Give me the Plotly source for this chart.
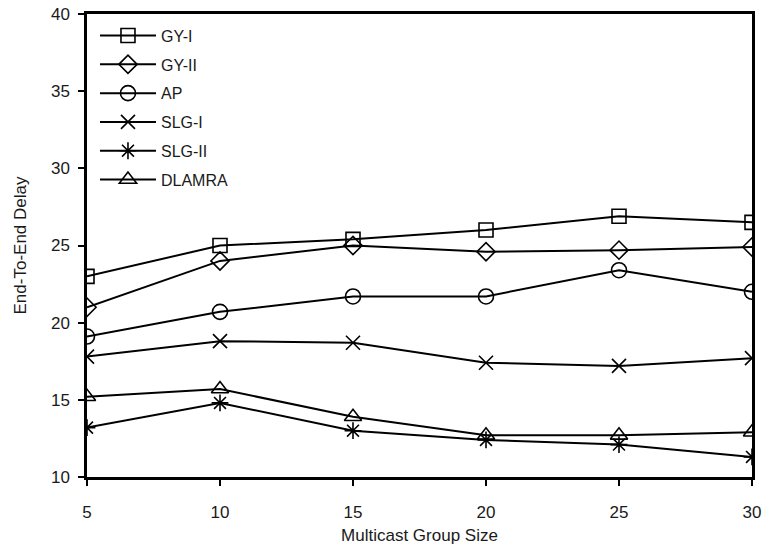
import plotly.graph_objects as go

x_vals = [5, 10, 15, 20, 25, 30]
gy1 = [23.0, 25.0, 25.4, 26.0, 26.9, 26.5]
gy2 = [21.0, 24.0, 25.0, 24.6, 24.7, 24.9]
ap = [19.1, 20.7, 21.7, 21.7, 23.4, 22.0]
slg1 = [17.8, 18.8, 18.7, 17.4, 17.2, 17.7]
slg2 = [13.2, 14.8, 13.0, 12.4, 12.1, 11.3]
dlamra = [15.2, 15.7, 13.9, 12.7, 12.7, 12.9]

series = [
    ("GY-I", gy1, "square-open", 14),
    ("GY-II", gy2, "diamond-open", 14),
    ("AP", ap, "circle-open", 15),
    ("SLG-I", slg1, "x-thin-open", 14),
    ("SLG-II", slg2, "asterisk-open", 14),
    ("DLAMRA", dlamra, "triangle-up-open", 15),
]

fig = go.Figure()
for i, (name, ys, sym, sz) in enumerate(series):
    fig.add_trace(go.Scatter(
        x=x_vals, y=ys, name=name, mode="lines+markers",
        line=dict(color="black", width=2),
        marker=dict(symbol=sym, size=sz, color="black",
                    line=dict(color="black", width=1.6)),
        legendgroup=f"g{i}",
    ))

font_family = "Liberation Sans, Arial, sans-serif"
fig.update_layout(
    width=764, height=546,
    margin=dict(l=87, r=12, t=14, b=69, autoexpand=False),
    plot_bgcolor="white", paper_bgcolor="white",
    font=dict(family=font_family, size=16, color="#1a1a1a"),
    showlegend=True,
    legend=dict(x=0.012, y=0.99, xanchor="left", yanchor="top",
                bgcolor="rgba(0,0,0,0)", tracegroupgap=5, itemwidth=56,
                font=dict(size=16, color="#1a1a1a")),
    xaxis=dict(range=[5, 30], tickvals=x_vals, showline=True, linecolor="black",
               linewidth=2.5, mirror=True, ticks="outside", ticklen=6,
               tickcolor="black", tickwidth=2, showgrid=False, zeroline=False,
               automargin=False, ticklabelstandoff=12,
               title=dict(text="Multicast Group Size", standoff=8,
                          font=dict(size=17, color="#1a1a1a")),
               tickfont=dict(size=17, color="#1a1a1a")),
    yaxis=dict(range=[10, 40], tickvals=[10, 15, 20, 25, 30, 35, 40],
               showline=True, linecolor="black", linewidth=2.5, mirror=True,
               ticks="outside", ticklen=6, tickcolor="black", tickwidth=2,
               showgrid=False, zeroline=False, automargin=False,
               ticklabelstandoff=5,
               title=dict(text="End-To-End Delay", standoff=20,
                          font=dict(size=17, color="#1a1a1a")),
               tickfont=dict(size=17, color="#1a1a1a")),
)

fig.write_html("out.html", config={"displayModeBar": False},
               post_script="document.body.style.margin='0';")
